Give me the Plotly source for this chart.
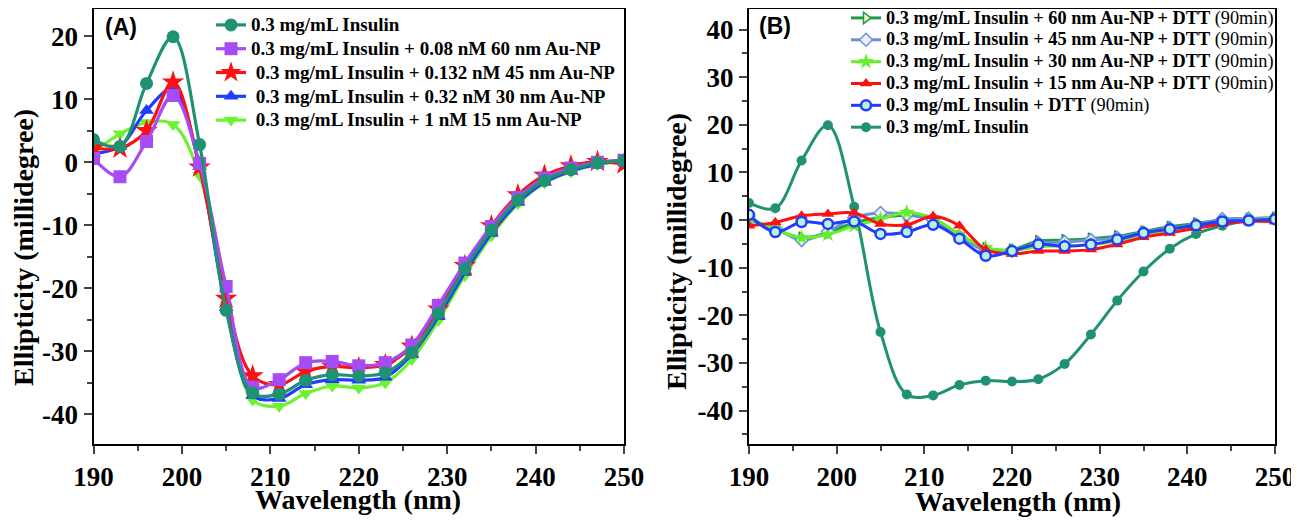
import plotly.graph_objects as go

# ---------------- data ----------------
wavelength = [190, 193, 196, 199, 202, 205, 208, 211, 214, 217, 220,
              223, 226, 229, 232, 235, 238, 241, 244, 247, 250]

# Panel A
insulin = [3.6, 2.5, 12.5, 19.9, 2.8, -23.5, -36.6, -36.8, -34.6, -33.7, -33.9,
           -33.4, -30.2, -24.0, -16.9, -10.8, -6.0, -2.9, -1.2, -0.1, 0.2]
a_60nm = [0.6, -2.3, 3.3, 10.6, -0.2, -19.7, -35.7, -34.5, -31.8, -31.6, -32.3,
          -31.8, -29.0, -22.7, -16.0, -10.2, -5.6, -2.5, -0.9, 0.0, 0.3]
a_45nm = [2.3, 2.2, 5.0, 12.7, -0.8, -21.6, -33.9, -35.3, -33.2, -32.4, -32.6,
          -32.1, -29.2, -23.3, -16.4, -10.1, -5.2, -2.1, -0.6, 0.1, -0.3]
a_30nm = [1.4, 2.5, 8.2, 11.6, -0.7, -23.1, -37.0, -37.5, -35.3, -34.5, -34.6,
          -34.1, -30.5, -24.5, -17.5, -11.3, -6.4, -3.2, -1.4, -0.3, 0.2]
a_15nm = [1.6, 4.5, 6.3, 6.0, -2.1, -21.8, -37.7, -38.7, -36.7, -35.5, -35.8,
          -35.0, -31.3, -25.1, -18.0, -11.7, -6.6, -3.3, -1.5, -0.4, 0.2]

# Panel B
b_60nm = [0.2, -2.0, -3.7, -2.7, -0.5, 0.5, 1.0, 0.0, -3.4, -5.9, -6.2,
          -4.4, -4.2, -3.9, -3.4, -2.4, -1.4, -0.7, 0.0, 0.3, 0.5]
b_45nm = [0.0, -1.7, -4.2, -2.4, 0.5, 1.5, 1.1, 0.0, -3.4, -6.4, -6.4,
          -4.9, -4.6, -4.2, -3.7, -2.6, -1.7, -1.0, 0.2, 0.3, 0.4]
b_30nm = [0.4, -1.9, -3.7, -3.0, -1.2, 0.2, 1.6, 0.4, -3.0, -5.8, -6.4,
          -5.6, -5.4, -5.2, -4.4, -3.0, -2.2, -1.2, -0.5, 0.0, 0.3]
b_15nm = [-1.2, -0.5, 0.9, 1.3, 1.5, -0.8, -1.0, 0.8, -1.2, -6.2, -7.1,
          -6.5, -6.5, -6.2, -5.1, -3.6, -2.7, -1.7, -0.8, -0.3, -0.3]
b_dtt = [1.1, -2.5, -0.4, -0.8, -0.3, -2.9, -2.5, -1.0, -3.9, -7.5, -6.5,
         -5.1, -5.5, -5.1, -4.1, -2.7, -1.9, -1.1, -0.3, -0.1, 0.2]

legend_a = ["0.3 mg/mL Insulin",
            "0.3 mg/mL Insulin + 0.08 nM 60 nm Au-NP",
            " 0.3 mg/mL Insulin + 0.132 nM 45 nm Au-NP",
            " 0.3 mg/mL Insulin + 0.32 nM 30 nm Au-NP",
            " 0.3 mg/mL Insulin + 1 nM 15 nm Au-NP"]
legend_b_bold = ["0.3 mg/mL Insulin + 60 nm Au-NP + DTT",
                 "0.3 mg/mL Insulin + 45 nm Au-NP + DTT",
                 "0.3 mg/mL Insulin + 30 nm Au-NP + DTT",
                 "0.3 mg/mL Insulin + 15 nm Au-NP + DTT",
                 "0.3 mg/mL Insulin + DTT",
                 "0.3 mg/mL Insulin"]
legend_b_tail = [" (90min)", " (90min)", " (90min)", " (90min)", " (90min)", ""]

x_ticks = [190, 200, 210, 220, 230, 240, 250]
y_ticks_a = [20, 10, 0, -10, -20, -30, -40]
y_labels_a = ["20", "10", "0", "-10", "-20", "-30", "-40"]
y_ticks_b = [40, 30, 20, 10, 0, -10, -20, -30, -40]
y_labels_b = ["40", "30", "20", "10", "0", "-10", "-20", "-30", "-40"]

# ---------------- styles ----------------
TEAL = "#1f9276"
SERIF = "Liberation Serif, Times New Roman, serif"
OFF = 8                       # page body margin
W, H = 1299 - OFF, 521 - OFF


def px(x):
    return (x - OFF) / W


def py(y):
    return 1 - (y - OFF) / H


def big(s, size):
    return '<span style="font-size:%gpx">%s</span>' % (size, s)


fig = go.Figure()

# Panel A traces (draw order: green, blue, red, purple, teal on top)
a_specs = [
    (a_15nm, legend_a[4], "#6cf22e", "triangle-down", 5),
    (a_30nm, legend_a[3], "#1f3cff", "triangle-up", 4),
    (a_45nm, legend_a[2], "#ff1010", "star", 3),
    (a_60nm, legend_a[1], "#a54cf5", "square", 2),
    (insulin, legend_a[0], TEAL, "circle", 1),
]
for ys, name, col, sym, rank in a_specs:
    fig.add_trace(go.Scatter(
        x=wavelength, y=ys, name=big(name, 19), mode="lines+markers",
        line=dict(color=col, width=3.2, shape="spline", smoothing=1.0),
        marker=dict(symbol=sym, size=13 if sym != "star" else 17, color=col,
                    line=dict(width=0)),
        legendrank=rank, legend="legend", xaxis="x", yaxis="y"))

# Panel B traces
b_specs = [
    (insulin, 5, TEAL, "circle", TEAL, 0, 10, 6),
    (b_60nm, 0, "#1e9a4a", "triangle-right", "#f4f7c8", 1.5, 10, 1),
    (b_45nm, 1, "#6f8fd8", "diamond", "#e9eefa", 1.5, 10, 2),
    (b_30nm, 2, "#62f02a", "star", "#62f02a", 0, 12, 3),
    (b_15nm, 3, "#ff1010", "triangle-up", "#ff1010", 0, 11, 4),
    (b_dtt, 4, "#1f3cff", "circle", "#b9f2e0", 2.5, 10, 5),
]
for ys, li, col, sym, fill, lw, size, rank in b_specs:
    name = big("<b>" + legend_b_bold[li] + "</b>" + legend_b_tail[li], 18.3)
    fig.add_trace(go.Scatter(
        x=wavelength, y=ys, name=name, mode="lines+markers",
        line=dict(color=col, width=3, shape="spline", smoothing=1.0),
        marker=dict(symbol=sym, size=size, color=fill,
                    line=dict(width=lw, color=col)),
        legendrank=rank, legend="legend2", xaxis="x2", yaxis="y2"))

tickfont = dict(family=SERIF, size=27, color="black", weight="bold")
common_x = dict(range=[190, 250], tickvals=x_ticks, ticks="outside", ticklen=8,
                tickwidth=2, showline=True, linewidth=2, linecolor="black",
                mirror=True, showgrid=False, zeroline=False, tickfont=tickfont,
                automargin=False, ticklabeloverflow="allow",
                minor=dict(dtick=5, ticks="outside", ticklen=5, tickwidth=2,
                           tick0=190, showgrid=False))
common_y = dict(ticks="outside", ticklen=8, tickwidth=2,
                showline=True, linewidth=2, linecolor="black", mirror=True,
                showgrid=False, zeroline=False, tickfont=tickfont,
                automargin=False, ticklabeloverflow="allow",
                minor=dict(dtick=5, tick0=0, ticks="outside", ticklen=5,
                           tickwidth=2, showgrid=False))

ydom = [py(444), 0.998]
fig.update_layout(
    template="none",
    width=W, height=H,
    margin=dict(l=0, r=0, t=0, b=0, pad=0, autoexpand=False),
    paper_bgcolor="white", plot_bgcolor="white", showlegend=True,
    xaxis=dict(domain=[px(93.5), px(624)], anchor="y", **common_x),
    yaxis=dict(domain=ydom, anchor="x", range=[-44.7, 24.3],
               tickvals=y_ticks_a, ticktext=y_labels_a, **common_y),
    xaxis2=dict(domain=[px(749), px(1275)], anchor="y2", **common_x),
    yaxis2=dict(domain=ydom, anchor="x2", range=[-47, 44.3],
                tickvals=y_ticks_b, ticktext=y_labels_b, **common_y),
    legend=dict(x=px(211), y=py(8), xanchor="left", yanchor="top",
                bgcolor="rgba(0,0,0,0)", borderwidth=0,
                font=dict(family=SERIF, size=16, color="black", weight="bold"),
                tracegroupgap=0),
    legend2=dict(x=px(846), y=py(2), xanchor="left", yanchor="top",
                 bgcolor="rgba(0,0,0,0)", borderwidth=0,
                 font=dict(family=SERIF, size=14.5, color="black"),
                 tracegroupgap=0),
)

title_font = dict(family=SERIF, size=28, color="black", weight="bold")
annots = [
    dict(text="Wavelength (nm)", x=px(358), y=py(499)),
    dict(text="Wavelength (nm)", x=px(1018), y=py(501)),
    dict(text="Ellipticity (millidegree)", x=px(23), y=py(248), textangle=-90),
    dict(text="Ellipticity (millidegree)", x=px(676), y=py(252), textangle=-90),
]
for a in annots:
    fig.add_annotation(xref="paper", yref="paper", showarrow=False,
                       xanchor="center", yanchor="middle", font=title_font, **a)

panel_font = dict(family="Liberation Sans, Arial, sans-serif", size=23,
                  color="black", weight="bold")
fig.add_annotation(text="(A)", xref="paper", yref="paper", x=px(103), y=py(27),
                   xanchor="left", yanchor="middle", showarrow=False, font=panel_font)
fig.add_annotation(text="(B)", xref="paper", yref="paper", x=px(757), y=py(26),
                   xanchor="left", yanchor="middle", showarrow=False, font=panel_font)

fig.write_html("out.html")
